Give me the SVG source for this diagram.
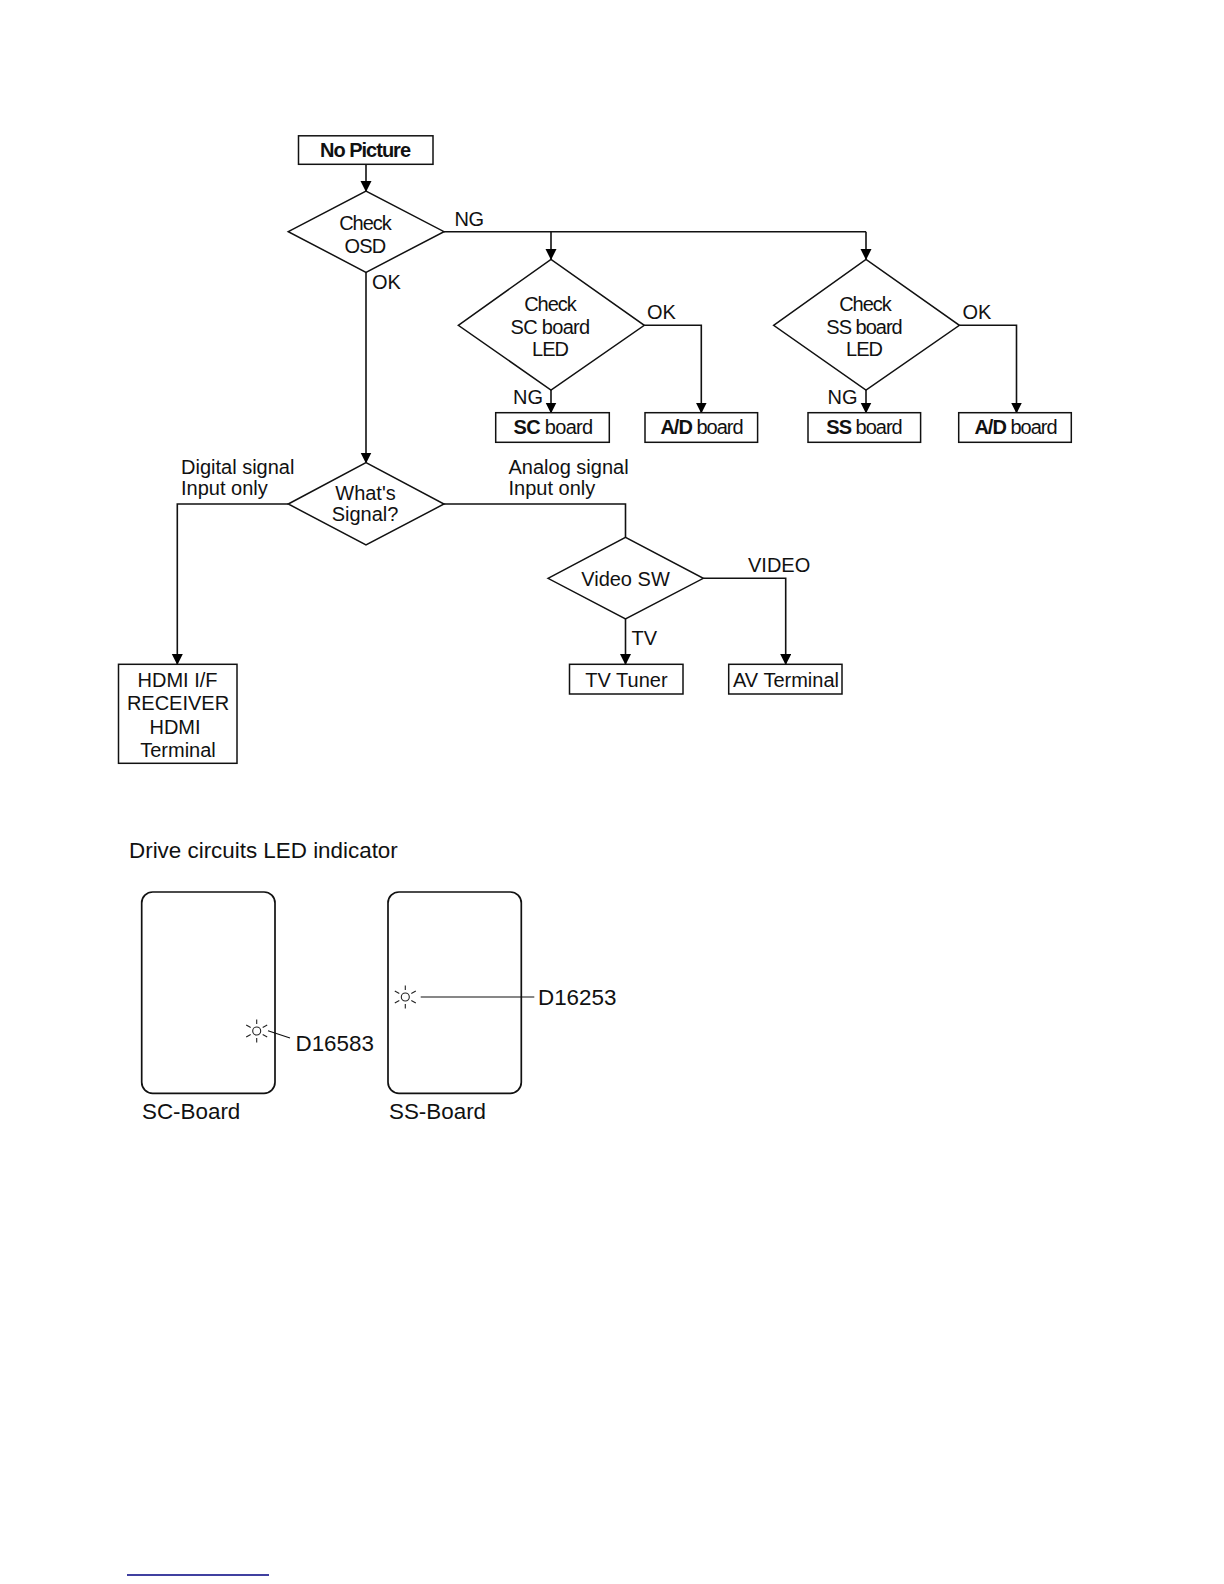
<svg xmlns="http://www.w3.org/2000/svg" width="1224" height="1584" viewBox="0 0 1224 1584">
<defs>
<marker id="ah" markerUnits="userSpaceOnUse" markerWidth="12" markerHeight="12" refX="10" refY="5.5" orient="auto"><path d="M0,0 L11,5.5 L0,11 Z" fill="#000"/></marker>
</defs>
<style>
text{font-family:"Liberation Sans",Arial,sans-serif;font-size:20px;fill:#111;text-anchor:middle}
.l{text-anchor:start}
.big{font-size:22.4px}
.b{font-weight:bold}
.t{letter-spacing:-0.7px}
.tt{letter-spacing:-1px}
.n{fill:#fff;stroke:#111;stroke-width:1.5}
.c{fill:none;stroke:#111;stroke-width:1.6}
.a{marker-end:url(#ah)}
.r{fill:none;stroke:#222;stroke-width:1.1}
.board{fill:#fff;stroke:#111;stroke-width:1.7}
</style>
<rect width="1224" height="1584" fill="#fff"/>
<g id="connectors">
<path class="c a" d="M366,164.500V191"/>
<path class="c a" d="M366,272V462.500"/>
<path class="c" d="M444,231.700H866"/>
<path class="c a" d="M551,231.700V259"/>
<path class="c a" d="M866,231.700V259"/>
<path class="c a" d="M551,390V412.500"/>
<path class="c a" d="M866,390V412.500"/>
<path class="c a" d="M644.300,325.300H701.300V412.500"/>
<path class="c a" d="M959.400,325.300H1016.500V412.500"/>
<path class="c a" d="M288.300,504H177.300V664"/>
<path class="c" d="M444,504H625.500V537.300"/>
<path class="c a" d="M625.500,619V664"/>
<path class="c a" d="M703.300,578.300H785.700V664"/>
</g>
<g id="no-picture"><rect class="n" x="298.500" y="135.800" width="134.500" height="28.500"/><text class="b tt" x="365" y="157">No Picture</text></g>
<g id="check-osd"><path class="n" d="M288.300,231.700L366,191L444,231.700L366,272.300Z"/><text class="tt" x="365" y="230">Check</text><text class="t" x="365" y="253">OSD</text></g>
<g id="check-sc"><path class="n" d="M458.300,325.300L551,259.300L644.300,325.300L551,390Z"/><text class="tt" x="550" y="311">Check</text><text class="t" x="550" y="334">SC board</text><text class="tt" x="550" y="356">LED</text></g>
<g id="check-ss"><path class="n" d="M773.600,325.300L866,259.300L959.400,325.300L866,390Z"/><text class="tt" x="865" y="311">Check</text><text class="tt" x="864" y="334">SS board</text><text class="tt" x="864" y="356">LED</text></g>
<g id="sc-board"><rect class="n" x="495.700" y="412.700" width="113.600" height="29.600"/><text class="t" x="553" y="434"><tspan class="b">SC</tspan> board</text></g>
<g id="ad-board-1"><rect class="n" x="645" y="412.700" width="112.600" height="29.600"/><text class="tt" x="701.500" y="434"><tspan class="b">A/D</tspan> board</text></g>
<g id="ss-board"><rect class="n" x="808" y="412.700" width="112.600" height="29.600"/><text class="tt" x="864" y="434"><tspan class="b">SS</tspan> board</text></g>
<g id="ad-board-2"><rect class="n" x="958.700" y="412.700" width="112.600" height="29.600"/><text class="tt" x="1015.500" y="434"><tspan class="b">A/D</tspan> board</text></g>
<g id="whats-signal"><path class="n" d="M288.300,504L366,462.700L444,504L366,545Z"/><text x="365.500" y="499.500">What's</text><text x="365" y="520.500">Signal?</text></g>
<g id="video-sw"><path class="n" d="M548,578.300L625.500,537.300L703.300,578.300L625.500,619Z"/><text x="625.500" y="585.500">Video SW</text></g>
<g id="hdmi"><rect class="n" x="118.500" y="664.300" width="118.500" height="99"/><text x="177.500" y="686.500">HDMI I/F</text><text x="178" y="710">RECEIVER</text><text x="175" y="733.500">HDMI</text><text x="178" y="757">Terminal</text></g>
<g id="tv-tuner"><rect class="n" x="569.500" y="664.300" width="113.500" height="29.700"/><text x="626.500" y="686.500">TV Tuner</text></g>
<g id="av-terminal"><rect class="n" x="728.700" y="664.300" width="113.300" height="29.700"/><text x="786" y="686.500">AV Terminal</text></g>
<g id="labels">
<text class="l" x="454.500" y="226" style="letter-spacing:-0.5px">NG</text>
<text class="l" x="372" y="289">OK</text>
<text class="l" x="647" y="319">OK</text>
<text class="l" x="962.500" y="319">OK</text>
<text class="l" x="513" y="404">NG</text>
<text class="l" x="827.500" y="404">NG</text>
<text class="l" x="181" y="474">Digital signal</text>
<text class="l" x="181" y="495">Input only</text>
<text class="l" x="508.500" y="474">Analog signal</text>
<text class="l" x="508.500" y="495">Input only</text>
<text class="l" x="748" y="572">VIDEO</text>
<text class="l" x="631.500" y="645">TV</text>
</g>
<g id="indicator">
<text class="l big" x="129" y="858">Drive circuits LED indicator</text>
<rect class="board" x="141.700" y="892" width="133.300" height="201.300" rx="11"/>
<rect class="board" x="388" y="892" width="133.300" height="201.300" rx="11"/>
<g id="led-sc"><circle class="r" cx="256.700" cy="1031" r="4"/><path class="r" d="M256.700,1019.500V1024M256.700,1038V1042.500M246.200,1025L250.700,1027.500M262.700,1034.500L267.200,1037M246.200,1037L250.700,1034.500M262.700,1027.500L267.200,1025"/></g>
<g id="led-ss"><circle class="r" cx="405.300" cy="997" r="4"/><path class="r" d="M405.300,985.500V990M405.300,1004V1008.500M394.800,991L399.300,993.500M411.300,1000.500L415.800,1003M394.800,1003L399.300,1000.500M411.300,993.500L415.800,991"/></g>
<path class="c" style="stroke-width:1.2" d="M268,1030.700L290,1038M420.700,997H534.300"/>
<text class="l big" x="295.500" y="1051">D16583</text>
<text class="l big" x="538" y="1005">D16253</text>
<text class="l big" x="142" y="1119">SC-Board</text>
<text class="l big" x="389" y="1119">SS-Board</text>
</g>
<line id="footer-rule" x1="127" y1="1575" x2="269" y2="1575" stroke="#000080" stroke-width="1.300"/>
</svg>
